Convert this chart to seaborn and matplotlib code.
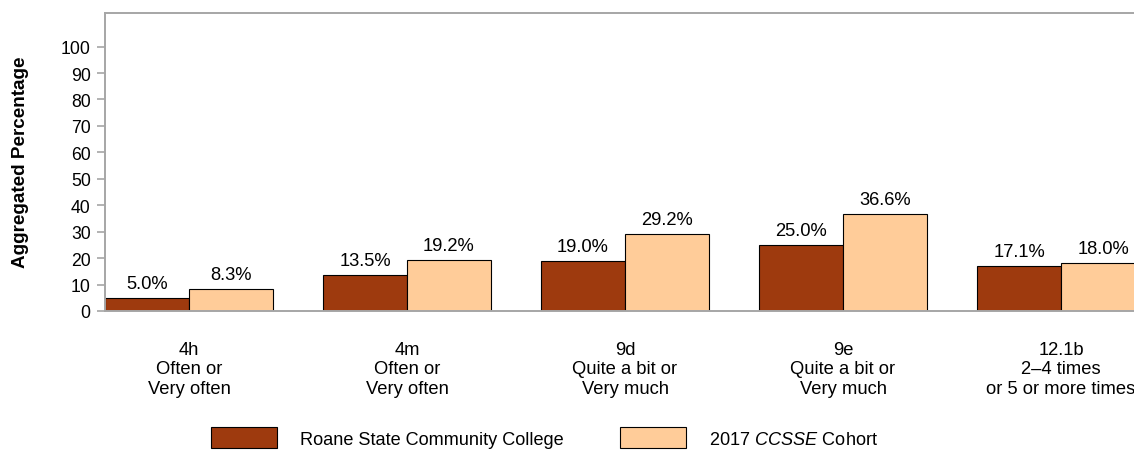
import matplotlib
matplotlib.use("Agg")
import matplotlib.pyplot as plt
import seaborn as sns
import pandas as pd
from matplotlib.patches import Patch

categories = ["4h\nOften or\nVery often",
              "4m\nOften or\nVery often",
              "9d\nQuite a bit or\nVery much",
              "9e\nQuite a bit or\nVery much",
              "12.1b\n2\u20134 times\nor 5 or more times"]
college_values = [5.0, 13.5, 19.0, 25.0, 17.1]
cohort_values = [8.3, 19.2, 29.2, 36.6, 18.0]
series_names = ["Roane State Community College", "2017 $\\it{CCSSE}$ Cohort"]
yticks = list(range(0, 101, 10))

dark = "#9E3A0E"
light = "#FFCC99"
grey = "#A6A6A6"

df = pd.DataFrame({
    "item": categories * 2,
    "value": college_values + cohort_values,
    "group": [series_names[0]] * len(categories) + [series_names[1]] * len(categories),
})

sns.set_theme(style="white")
plt.rcParams["font.family"] = ["Liberation Sans", "DejaVu Sans"]
plt.rcParams["mathtext.fontset"] = "custom"
plt.rcParams["mathtext.it"] = "Liberation Sans:italic"
plt.rcParams["mathtext.rm"] = "Liberation Sans"
plt.rcParams["text.color"] = "black"
plt.rcParams["axes.labelcolor"] = "black"
plt.rcParams["xtick.color"] = "black"
plt.rcParams["ytick.color"] = "black"

W, H = 1134, 452
fig = plt.figure(figsize=(W / 100, H / 100), dpi=100)
left_px, right_px, top_px, bottom_px = 105, 1145, 13.5, 312
ax = fig.add_axes([left_px / W, (H - bottom_px) / H,
                   (right_px - left_px) / W, (bottom_px - top_px) / H])

sns.barplot(data=df, x="item", y="value", hue="group", order=categories,
            hue_order=series_names, palette=[dark, light], width=0.77,
            saturation=1, edgecolor="black", linewidth=0.8, ax=ax, legend=False)

fs = 13.2
for cont in ax.containers:
    ax.bar_label(cont, fmt="%.1f%%", padding=4.3, fontsize=fs, color="black")

ax.set_xlim(-0.385, len(categories) - 1 + 0.385)
ax.set_ylim(0, 112.9)
ax.set_yticks(yticks)
ax.set_xlabel("")
ax.set_ylabel("")
ax.tick_params(axis="x", length=0, pad=21.5, labelsize=fs, labelcolor="black")
ax.tick_params(axis="y", length=6, width=1.2, color=grey, pad=4.3,
               labelsize=12.7, labelcolor="black", left=True)
for s in ax.spines.values():
    s.set_color(grey)
    s.set_linewidth(1.4)
    s.set_visible(True)

fig.text(20.5 / W, 1 - ((top_px + bottom_px) / 2) / H, "Aggregated Percentage",
         rotation=90, ha="center", va="center", fontsize=13.6,
         fontweight="bold", color="black")

lfs = 13.1
handles = [Patch(facecolor=dark, edgecolor="black", linewidth=0.8),
           Patch(facecolor=light, edgecolor="black", linewidth=0.8)]
leg = fig.legend(handles, series_names, loc="center", ncol=2, frameon=False,
                 bbox_to_anchor=(544.5 / W, (H - 438.5) / H), fontsize=lfs,
                 handlelength=3.63, handleheight=1.37, handletextpad=1.26,
                 columnspacing=3.08, borderpad=0, borderaxespad=0)
for t in leg.get_texts():
    t.set_color("black")

fig.savefig("out.png", dpi=100)
